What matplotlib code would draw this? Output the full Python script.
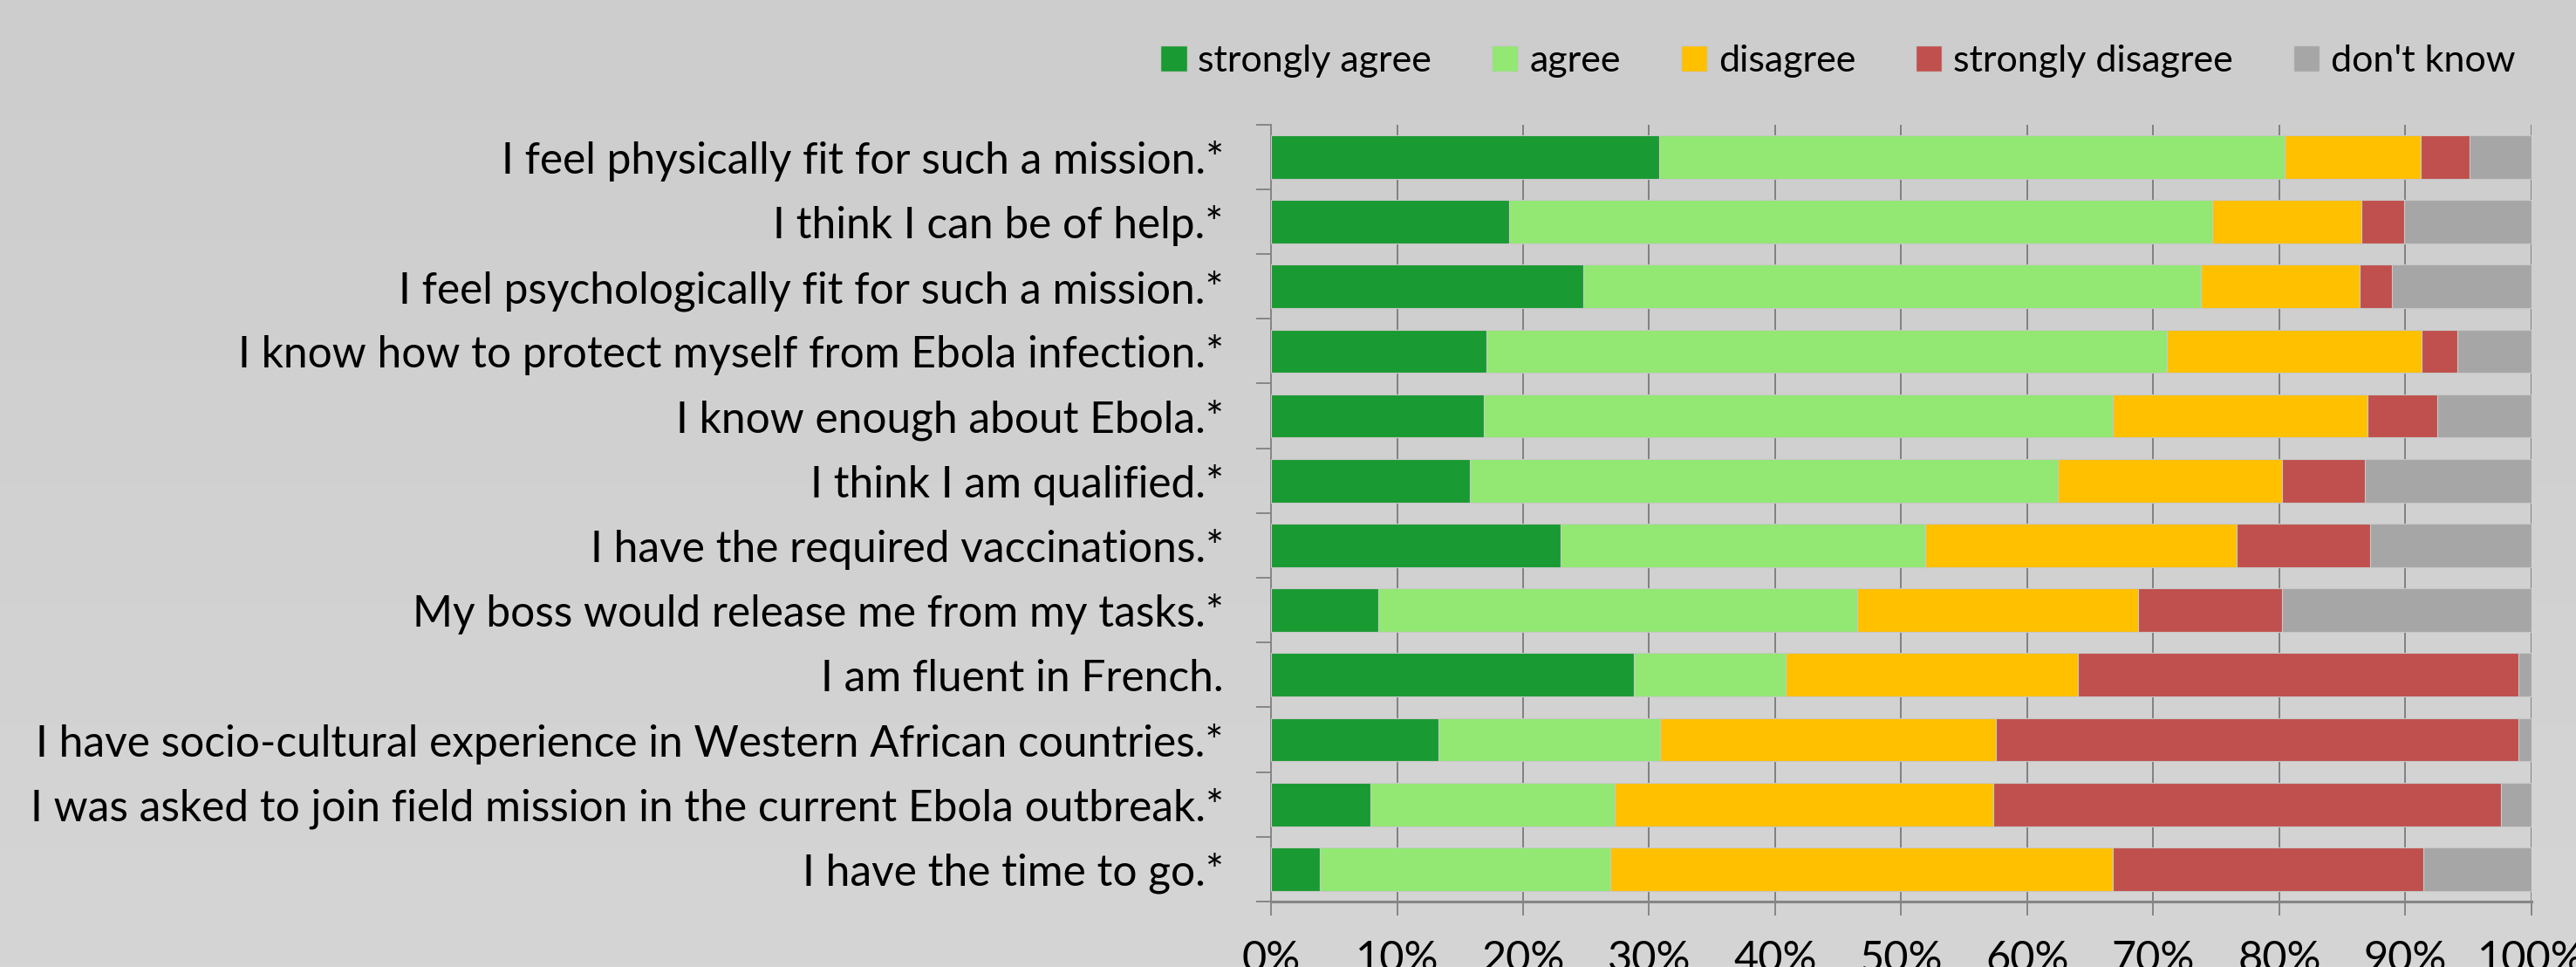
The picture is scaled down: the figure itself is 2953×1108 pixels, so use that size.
import numpy as np
import matplotlib
matplotlib.use("Agg")
import matplotlib.pyplot as plt
from matplotlib.patches import Patch

plt.rcParams['font.family'] = ['Lato', 'DejaVu Sans']

# statements, top to bottom
statements = [
    "I feel physically fit for such a mission.*",
    "I think I can be of help.*",
    "I feel psychologically fit for such a mission.*",
    "I know how to protect myself from Ebola infection.*",
    "I know enough about Ebola.*",
    "I think I am qualified.*",
    "I have the required vaccinations.*",
    "My boss would release me from my tasks.*",
    "I am fluent in French.",
    "I have socio-cultural experience in Western African countries.*",
    "I was asked to join field mission in the current Ebola outbreak.*",
    "I have the time to go.*",
]

# percentages per answer
strongly_agree = [30.8, 18.9, 24.8, 17.1, 16.9, 15.8, 23.0, 8.5, 28.8, 13.3, 7.9, 3.9]
agree = [49.6, 55.8, 49.0, 54.0, 49.9, 46.6, 28.9, 38.0, 12.0, 17.6, 19.4, 23.0]
disagree = [10.8, 11.8, 12.6, 20.2, 20.2, 17.8, 24.7, 22.3, 23.2, 26.6, 30.0, 39.9]
strongly_disagree = [3.9, 3.4, 2.5, 2.8, 5.5, 6.6, 10.6, 11.4, 35.0, 41.5, 40.3, 24.6]
dont_know = [4.9, 10.1, 11.1, 5.9, 7.5, 13.2, 12.8, 19.8, 1.0, 1.0, 2.4, 8.6]

answers = ["strongly agree", "agree", "disagree", "strongly disagree", "don't know"]
colors = ["#1a9a32", "#92e872", "#ffc000", "#c0504d", "#a6a6a6"]

fig = plt.figure(figsize=(29.53, 11.08), dpi=100)

# soft vertical gradient for the background
bg = fig.add_axes([0, 0, 1, 1], zorder=-10)
grad = np.linspace(0, 1, 256).reshape(-1, 1)
bg.imshow(grad, aspect='auto', cmap=matplotlib.colors.LinearSegmentedColormap.from_list(
    'bg', ['#cdcdcd', '#d5d5d5']), extent=[0, 1, 0, 1])
bg.axis('off')

ax = fig.add_axes([0.4934, 0.0677, 0.4893, 0.8035])
ax.patch.set_alpha(0)

y = np.arange(len(statements))
left = np.zeros(len(statements))
for vals, name, c in zip([strongly_agree, agree, disagree, strongly_disagree, dont_know], answers, colors):
    ax.barh(y, vals, left=left, height=0.67, color=c, edgecolor='#c8c8c8', linewidth=0.8,
            label=name, zorder=3)
    left += np.array(vals)

ax.set_xlim(0, 100)
ax.set_ylim(len(statements) - 0.5, -0.5)

ax.set_xticks(np.arange(0, 101, 10))
ax.set_xticklabels([f"{v}%" for v in range(0, 101, 10)])
ax.grid(axis='x', color='#808080', linewidth=1.4, zorder=0)

ax.set_yticks(y)
ax.set_yticklabels(statements)
ax.set_yticks(np.arange(-0.5, len(statements), 1), minor=True)
ax.tick_params(axis='y', which='major', length=0, pad=39, labelsize=35.7)
ax.tick_params(axis='y', which='minor', length=12, width=1.4, color='#868686')
ax.tick_params(axis='x', length=11.5, width=1.4, color='#868686', pad=20, labelsize=35)

for s in ['top', 'right']:
    ax.spines[s].set_visible(False)
ax.spines['left'].set_color('#868686')
ax.spines['left'].set_linewidth(1.4)
ax.spines['bottom'].set_color('#868686')
ax.spines['bottom'].set_linewidth(2.2)

handles = [Patch(facecolor=c, edgecolor='#c8c8c8') for c in colors]
fig.legend(handles, answers, loc='center right', bbox_to_anchor=(0.9895, 0.937), ncol=5,
           frameon=False, fontsize=31, handlelength=0.7, handleheight=0.7,
           handletextpad=0.3, columnspacing=1.6)

fig.savefig("out.png", dpi=100)
